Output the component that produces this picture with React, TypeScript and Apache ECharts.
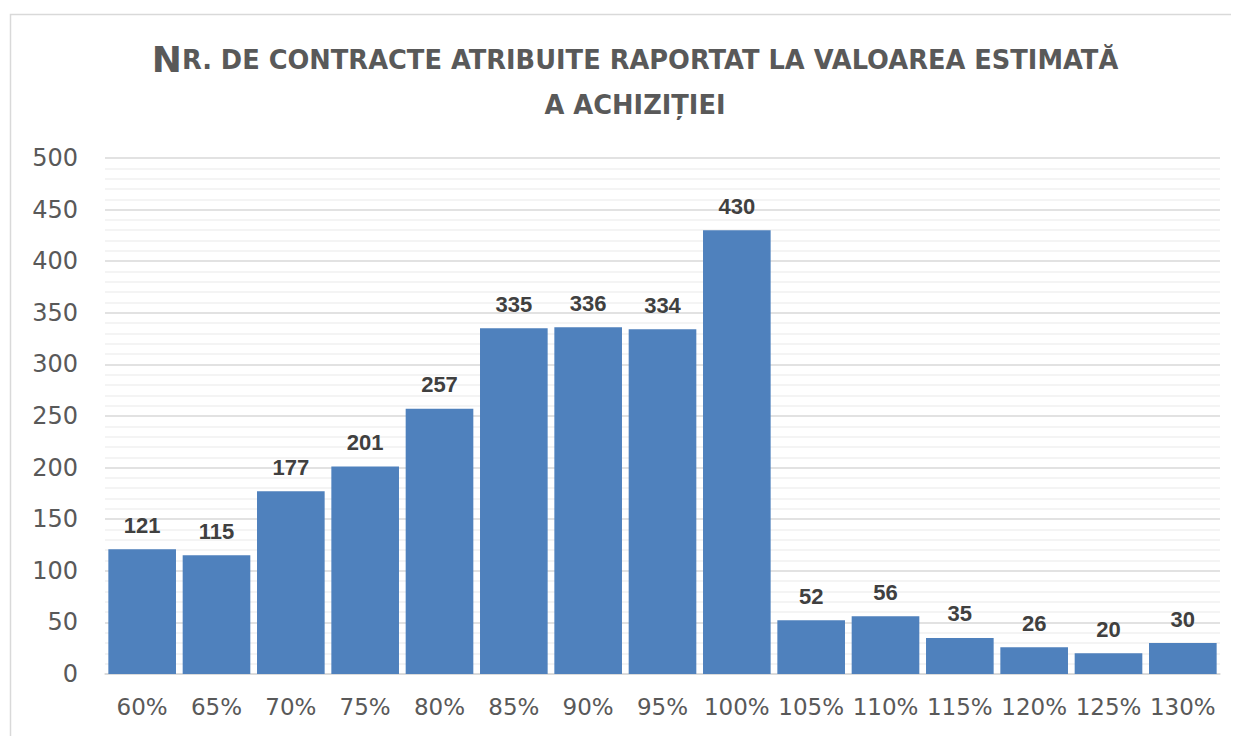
import React, { useEffect, useRef } from "react";
import * as echarts from "echarts";

const categories = ["60%", "65%", "70%", "75%", "80%", "85%", "90%", "95%", "100%", "105%", "110%", "115%", "120%", "125%", "130%"];
const contractCounts = [121, 115, 177, 201, 257, 335, 336, 334, 430, 52, 56, 35, 26, 20, 30];
const titleLine1Big = "N";
const titleLine1Rest = "R. DE CONTRACTE ATRIBUITE RAPORTAT LA VALOAREA ESTIMATĂ";
const titleLine2 = "A ACHIZIȚIEI";

export default function App() {
  const ref = useRef<HTMLDivElement>(null);
  useEffect(() => {
    document.documentElement.style.overflow = "hidden";
    const chart = echarts.init(ref.current!, null, { renderer: "svg" });
    const font = "'DejaVu Sans', sans-serif";
    const labelFont = "'Liberation Sans', Arial, sans-serif";
    chart.setOption({
      animation: false,
      backgroundColor: "#ffffff",
      graphic: [
        {
          type: "rect",
          shape: { x: 2.5, y: 6.5, width: 1250, height: 800 },
          style: { fill: "none", stroke: "#d9d9d9", lineWidth: 1.5 },
          silent: true,
          z: -10,
        },
      ],
      title: {
        left: 622,
        top: 24,
        textAlign: "center",
        text: `{b|${titleLine1Big}}{s|${titleLine1Rest}}\n{s|${titleLine2}}`,
        textStyle: {
          rich: {
            b: { fontSize: 36, fontWeight: "bold", color: "#595959", fontFamily: font, lineHeight: 45 },
            s: { fontSize: 25.7, fontWeight: "bold", color: "#595959", fontFamily: font, lineHeight: 45 },
          },
        },
      },
      grid: { left: 97, right: 19, top: 150, bottom: 62, containLabel: false },
      xAxis: {
        type: "category",
        data: categories,
        axisLine: { show: true, lineStyle: { color: "#d9d9d9", width: 1.5 } },
        axisTick: { show: false },
        axisLabel: { color: "#595959", fontSize: 23, fontFamily: font, margin: 21, interval: 0 },
      },
      yAxis: {
        type: "value",
        min: 0,
        max: 500,
        interval: 50,
        axisLine: { show: false },
        axisTick: { show: false },
        axisLabel: { color: "#595959", fontSize: 24, fontFamily: font, margin: 27 },
        splitLine: { show: true, lineStyle: { color: "#d9d9d9", width: 1.5 } },
        minorTick: { show: false, splitNumber: 5 },
        minorSplitLine: { show: true, lineStyle: { color: "#f0f0f0", width: 1.5 } },
      },
      series: [
        {
          type: "bar",
          data: contractCounts,
          barCategoryGap: "9%",
          itemStyle: { color: "#4f81bd" },
          label: {
            show: true,
            position: "top",
            distance: 13,
            color: "#404040",
            fontSize: 22,
            fontWeight: "bold",
            fontFamily: labelFont,
          },
        },
      ],
    });
    return () => chart.dispose();
  }, []);
  return <div ref={ref} style={{ width: 1231, height: 728 }} />;
}
